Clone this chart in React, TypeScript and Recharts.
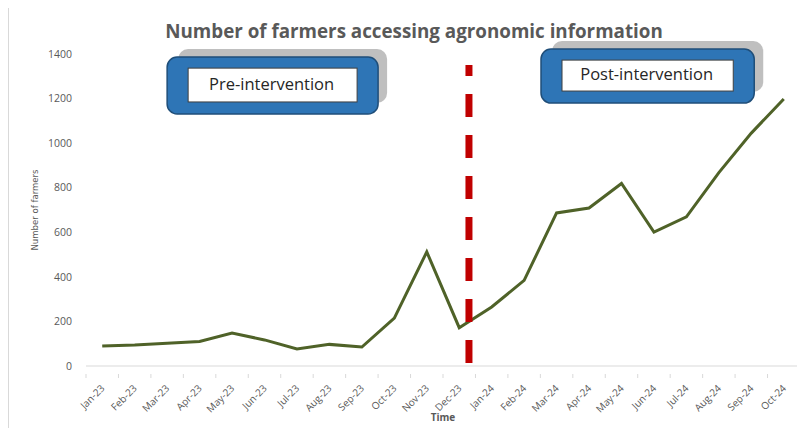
import {
  LineChart,
  Line,
  XAxis,
  YAxis,
  ReferenceLine,
  ReferenceArea,
} from "recharts";

const months = [
  "Jan-23", "Feb-23", "Mar-23", "Apr-23", "May-23", "Jun-23", "Jul-23", "Aug-23",
  "Sep-23", "Oct-23", "Nov-23", "Dec-23", "Jan-24", "Feb-24", "Mar-24", "Apr-24",
  "May-24", "Jun-24", "Jul-24", "Aug-24", "Sep-24", "Oct-24",
];

const farmers = [
  90, 94, 102, 110, 148, 117, 76, 97, 85, 215, 512, 172,
  265, 384, 687, 709, 819, 601, 669, 868, 1045, 1198,
];

const yTicks = [0, 200, 400, 600, 800, 1000, 1200, 1400];

// each month sits in the middle of its slot on a 0..n numeric axis
const data = months.map((m, i) => ({ x: i + 0.5, month: m, farmers: farmers[i] }));
const xTicks = data.map((d) => d.x);

const GREY_TEXT = "#595959";
const FONT = "'Open Sans', sans-serif";

function MonthTick(props: any) {
  const { x, y, payload, index, width } = props;
  const half = width / months.length / 2;
  const label = months[Math.round(payload.value - 0.5)];
  return (
    <g>
      <line x1={x - half} y1={y} x2={x - half} y2={y + 4} stroke="#d9d9d9" />
      {index === months.length - 1 && (
        <line x1={x + half} y1={y} x2={x + half} y2={y + 4} stroke="#d9d9d9" />
      )}
      <text
        x={x + 3}
        y={y + 15}
        transform={`rotate(-45, ${x + 3}, ${y + 15})`}
        textAnchor="end"
        fontSize={10}
        fontFamily={FONT}
        fill={GREY_TEXT}
      >
        {label}
      </text>
    </g>
  );
}

function makeBox(text: string) {
  return (p: any) => {
    const { x, y, width, height } = p;
    return (
      <g>
        <rect x={x + 11} y={y - 8} width={width - 2} height={height - 3} rx={10} fill="#bfbfbf" />
        <rect
          x={x}
          y={y}
          width={width}
          height={height}
          rx={10}
          fill="#2e75b6"
          stroke="#1f4e79"
          strokeWidth={1.5}
        />
        <rect
          x={x + 21}
          y={y + 11}
          width={width - 42}
          height={height - 23}
          fill="#ffffff"
          stroke="#404040"
          strokeWidth={1}
        />
        <text
          x={x + width / 2 - 1}
          y={y + height / 2}
          textAnchor="middle"
          dominantBaseline="middle"
          fontSize={16.5}
          fontFamily={FONT}
          fill="#262626"
        >
          {text}
        </text>
      </g>
    );
  };
}

export default function App() {
  return (
    <div
      style={{
        position: "relative",
        marginTop: -1,
        width: 796,
        height: 420,
        borderTop: "1px solid #d9d9d9",
        borderLeft: "1px solid #d9d9d9",
        background: "#fff",
      }}
    >
      <div
        style={{
          position: "absolute",
          top: 10,
          left: 0,
          width: 810,
          textAlign: "center",
          fontFamily: FONT,
          fontWeight: 700,
          fontSize: 18.8,
          color: GREY_TEXT,
        }}
      >
        Number of farmers accessing agronomic information
      </div>
      <LineChart
        width={796}
        height={419}
        data={data}
        margin={{ top: 46, right: 5, left: 0, bottom: 6 }}
      >
        <XAxis
          dataKey="x"
          type="number"
          domain={[0, months.length]}
          ticks={xTicks}
          interval={0}
          height={55}
          stroke="#d9d9d9"
          tickLine={false}
          tick={<MonthTick />}
          label={{
            value: "Time",
            position: "insideBottom",
            offset: 0,
            fill: GREY_TEXT,
            fontSize: 10,
            fontWeight: 700,
            fontFamily: FONT,
          }}
        />
        <YAxis
          domain={[0, 1400]}
          ticks={yTicks}
          width={77}
          axisLine={false}
          tickLine={false}
          tickSize={0}
          tickMargin={14}
          tick={{ fill: GREY_TEXT, fontSize: 10.5, fontFamily: FONT }}
          label={{
            value: "Number of farmers",
            angle: -90,
            position: "insideLeft",
            offset: 26,
            fill: GREY_TEXT,
            fontSize: 9.5,
            fontFamily: "'DejaVu Sans Condensed', 'DejaVu Sans', sans-serif",
            style: { textAnchor: "middle", fontStretch: "condensed" },
          }}
        />
        <ReferenceArea
          x1={2.5}
          x2={9.0}
          y1={1131}
          y2={1386}
          ifOverflow="visible"
          shape={makeBox("Pre-intervention")}
        />
        <ReferenceArea
          x1={14.02}
          x2={20.59}
          y1={1180}
          y2={1422}
          ifOverflow="visible"
          shape={makeBox("Post-intervention")}
        />
        <Line
          dataKey="farmers"
          stroke="#4f6228"
          strokeWidth={3}
          dot={false}
          activeDot={false}
          isAnimationActive={false}
        />
        <ReferenceLine
          segment={[
            { x: 11.8, y: 13 },
            { x: 11.8, y: 1351 },
          ]}
          stroke="#c00000"
          strokeWidth={7}
          strokeDasharray="23 18"
          ifOverflow="visible"
        />
      </LineChart>
    </div>
  );
}
